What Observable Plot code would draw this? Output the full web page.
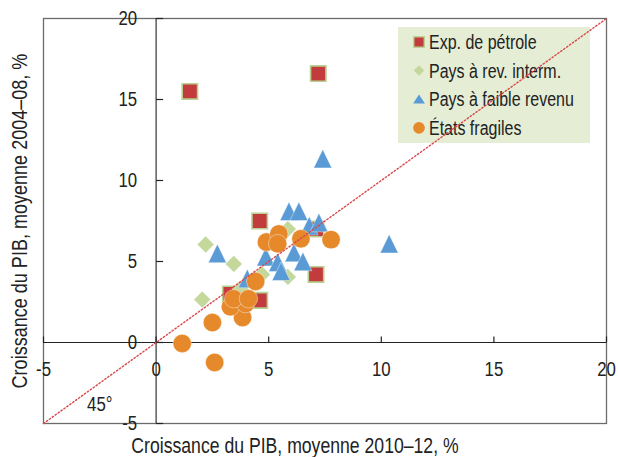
<!DOCTYPE html>
<html>
<head>
<meta charset="utf-8">
<script src="https://cdn.jsdelivr.net/npm/d3@7"></script>
<script src="https://cdn.jsdelivr.net/npm/@observablehq/plot@0.6"></script>
<style>
  html, body { margin: 0; padding: 0; background: white; }
</style>
</head>
<body>
<div id="chart"></div>
<script>
// ---- Data ----
const oilX  = [1.5, 7.2, 4.6, 7.1, 7.1, 3.3, 4.6];
const oilY  = [15.5, 16.6, 7.5, 7.0, 4.2, 3.0, 2.6];

const midX  = [2.2, 3.45, 2.05, 4.7, 5.85, 5.85, 3.75];
const midY  = [6.05, 4.85, 2.65, 4.2, 4.05, 7.0, 3.3];

const lowX  = [2.72, 4.05, 4.87, 5.4, 5.55, 6.12, 6.52, 5.9, 6.34, 6.8, 7.23, 7.4, 10.35];
const lowY  = [5.5, 3.95, 5.3, 4.95, 4.4, 5.55, 5.0, 8.1, 8.1, 7.2, 7.4, 11.35, 6.1];

const fragX = [1.16, 2.6, 2.5, 3.84, 3.3, 3.97, 3.44, 4.1, 4.42, 4.9, 5.45, 5.4, 6.43, 7.77];
const fragY = [-0.06, -1.23, 1.23, 1.54, 2.2, 2.4, 2.7, 2.7, 3.77, 6.2, 6.7, 6.1, 6.4, 6.35];

const seriesNames = ["Exp. de pétrole", "Pays à rev. interm.", "Pays à faible revenu", "États fragiles"];

const xTicks = [-5, 0, 5, 10, 15, 20];
const yTicks = [-5, 0, 5, 10, 15, 20];
const diagX = [-5, 20];
const diagY = [-5, 20];

const xTitle = "Croissance du PIB, moyenne 2010–12, %";
const yTitle = "Croissance du PIB, moyenne 2004–08, %";
const angleLabel = [{x: -2.5, y: -3.85, text: "45°"}];

// ---- Styles ----
const FONT = "'Liberation Sans', Arial, sans-serif";
const NARROW = 0.82; // horizontal squeeze to mimic a narrow face
const RED = "#c33c3d", REDEDGE = "#b9d191";
const GREEN = "#c4d89c";
const BLUE = "#5b9bd5";
const ORANGE = "#e6892a";

const toPts = (xs, ys) => xs.map((x, i) => ({x, y: ys[i]}));
const oil = toPts(oilX, oilY);
const mid = toPts(midX, midY);
const low = toPts(lowX, lowY);
const frag = toPts(fragX, fragY);
const diag = toPts(diagX, diagY);

// custom symbols
const triangleSym = {
  draw(ctx, size) {
    const s = Math.sqrt(size);
    const hw = 0.565 * s, hh = 0.58 * s;
    ctx.moveTo(0, -hh);
    ctx.lineTo(hw, hh);
    ctx.lineTo(-hw, hh);
    ctx.closePath();
  }
};
const yTickSym = { draw(ctx) { ctx.moveTo(0, 0); ctx.lineTo(7, 0); } };
const xTickSym = { draw(ctx) { ctx.moveTo(0, 0); ctx.lineTo(0, -6); } };

const chart = Plot.plot({
  width: 618,
  height: 457,
  marginLeft: 43,
  marginRight: 12,
  marginTop: 18,
  marginBottom: 34,
  style: {fontFamily: FONT, background: "white", color: "#222"},
  x: {domain: [-5, 20], axis: null},
  y: {domain: [-5, 20], axis: null},
  marks: [
    Plot.frame({stroke: "#6b6b6b", strokeWidth: 1.3}),
    Plot.ruleX([0], {stroke: "#222", strokeWidth: 1.1}),
    Plot.ruleY([0], {stroke: "#222", strokeWidth: 1.1}),
    Plot.dot(yTicks, {x: 0, y: d => d, symbol: yTickSym, r: 5, stroke: "#222", strokeWidth: 1.2, fill: "none"}),
    Plot.dot(xTicks, {x: d => d, y: 0, symbol: xTickSym, r: 5, stroke: "#222", strokeWidth: 1.2, fill: "none"}),
    Plot.text(xTicks, {x: d => d, y: 0, text: d => String(d), dy: 27, fontSize: 20.5, fill: "#222"}),
    Plot.text(yTicks, {x: 0, y: d => d, text: d => String(d), dx: -19, textAnchor: "end", fontSize: 20.5, fill: "#222"}),
    Plot.dot(oil, {x: "x", y: "y", symbol: "square", r: 8.7, fill: RED, stroke: REDEDGE, strokeWidth: 1.6}),
    Plot.dot(mid, {x: "x", y: "y", symbol: "diamond2", r: 7.6, fill: GREEN, stroke: "white", strokeWidth: 0.4}),
    Plot.dot(low, {x: "x", y: "y", symbol: triangleSym, r: 9, fill: BLUE, stroke: "white", strokeWidth: 0.4}),
    Plot.dot(frag, {x: "x", y: "y", r: 9.2, fill: ORANGE, stroke: "white", strokeWidth: 0.4}),
    Plot.text(angleLabel, {x: "x", y: "y", text: "text", fontSize: 20.5, fill: "#222"}),
    Plot.text([xTitle], {frameAnchor: "bottom", textAnchor: "middle", lineAnchor: "middle", text: d => d, dy: 22.5, dx: -30, fontSize: 21.5, fill: "#222"}),
    Plot.text([yTitle], {frameAnchor: "left", textAnchor: "middle", lineAnchor: "middle", text: d => d, dx: -24, rotate: -90, fontSize: 22, fill: "#222"}),
    Plot.line(diag, {x: "x", y: "y", stroke: "#d9464a", strokeWidth: 1.4, strokeDasharray: "1.4,2.2"})
  ]
});

// ---- Legend (inside plot area, drawn below the diagonal) ----
const svg = d3.select(chart);
const lineGroup = chart.querySelector("g[aria-label=line]");
const lg = d3.select(chart.insertBefore(document.createElementNS("http://www.w3.org/2000/svg", "g"), lineGroup))
  .attr("aria-label", "legend");
lg.append("rect").attr("x", 398).attr("y", 27).attr("width", 192).attr("height", 116).attr("fill", "#e5edd5");
const legendSyms = [
  {sym: d3.symbolSquare, size: 110, fill: RED, stroke: REDEDGE, sw: 1.4},
  {sym: d3.symbolDiamond2, size: 70, fill: GREEN, stroke: "none", sw: 0},
  {sym: null, size: 0, fill: BLUE, stroke: "none", sw: 0},
  {sym: d3.symbolCircle, size: 108, fill: ORANGE, stroke: "none", sw: 0}
];
seriesNames.forEach((name, i) => {
  const cy = 42 + i * 28.6;
  const s = legendSyms[i];
  const g = lg.append("g").attr("transform", `translate(419,${cy})`);
  if (s.sym) {
    g.append("path").attr("d", d3.symbol(s.sym, s.size)()).attr("fill", s.fill)
      .attr("stroke", s.stroke).attr("stroke-width", s.sw);
  } else {
    g.append("path").attr("d", "M0,-4.6L5.9,4.4L-5.9,4.4Z").attr("fill", s.fill);
  }
  lg.append("text").attr("x", 429).attr("y", cy).attr("dy", "0.36em")
    .attr("text-anchor", "start")
    .attr("font-size", 19.5).attr("fill", "#222").attr("font-family", FONT).text(name);
});

// squeeze all texts horizontally (narrow typeface look), keeping anchors in place
svg.selectAll("text").each(function() {
  const t = d3.select(this);
  const xa = t.attr("x");
  if (xa != null && xa !== "" && !isNaN(+xa)) t.attr("x", +xa / NARROW);
  const tr = t.attr("transform") || "";
  t.attr("transform", `${tr} scale(${NARROW},1)`);
});

document.getElementById("chart").appendChild(chart);
</script>
</body>
</html>
